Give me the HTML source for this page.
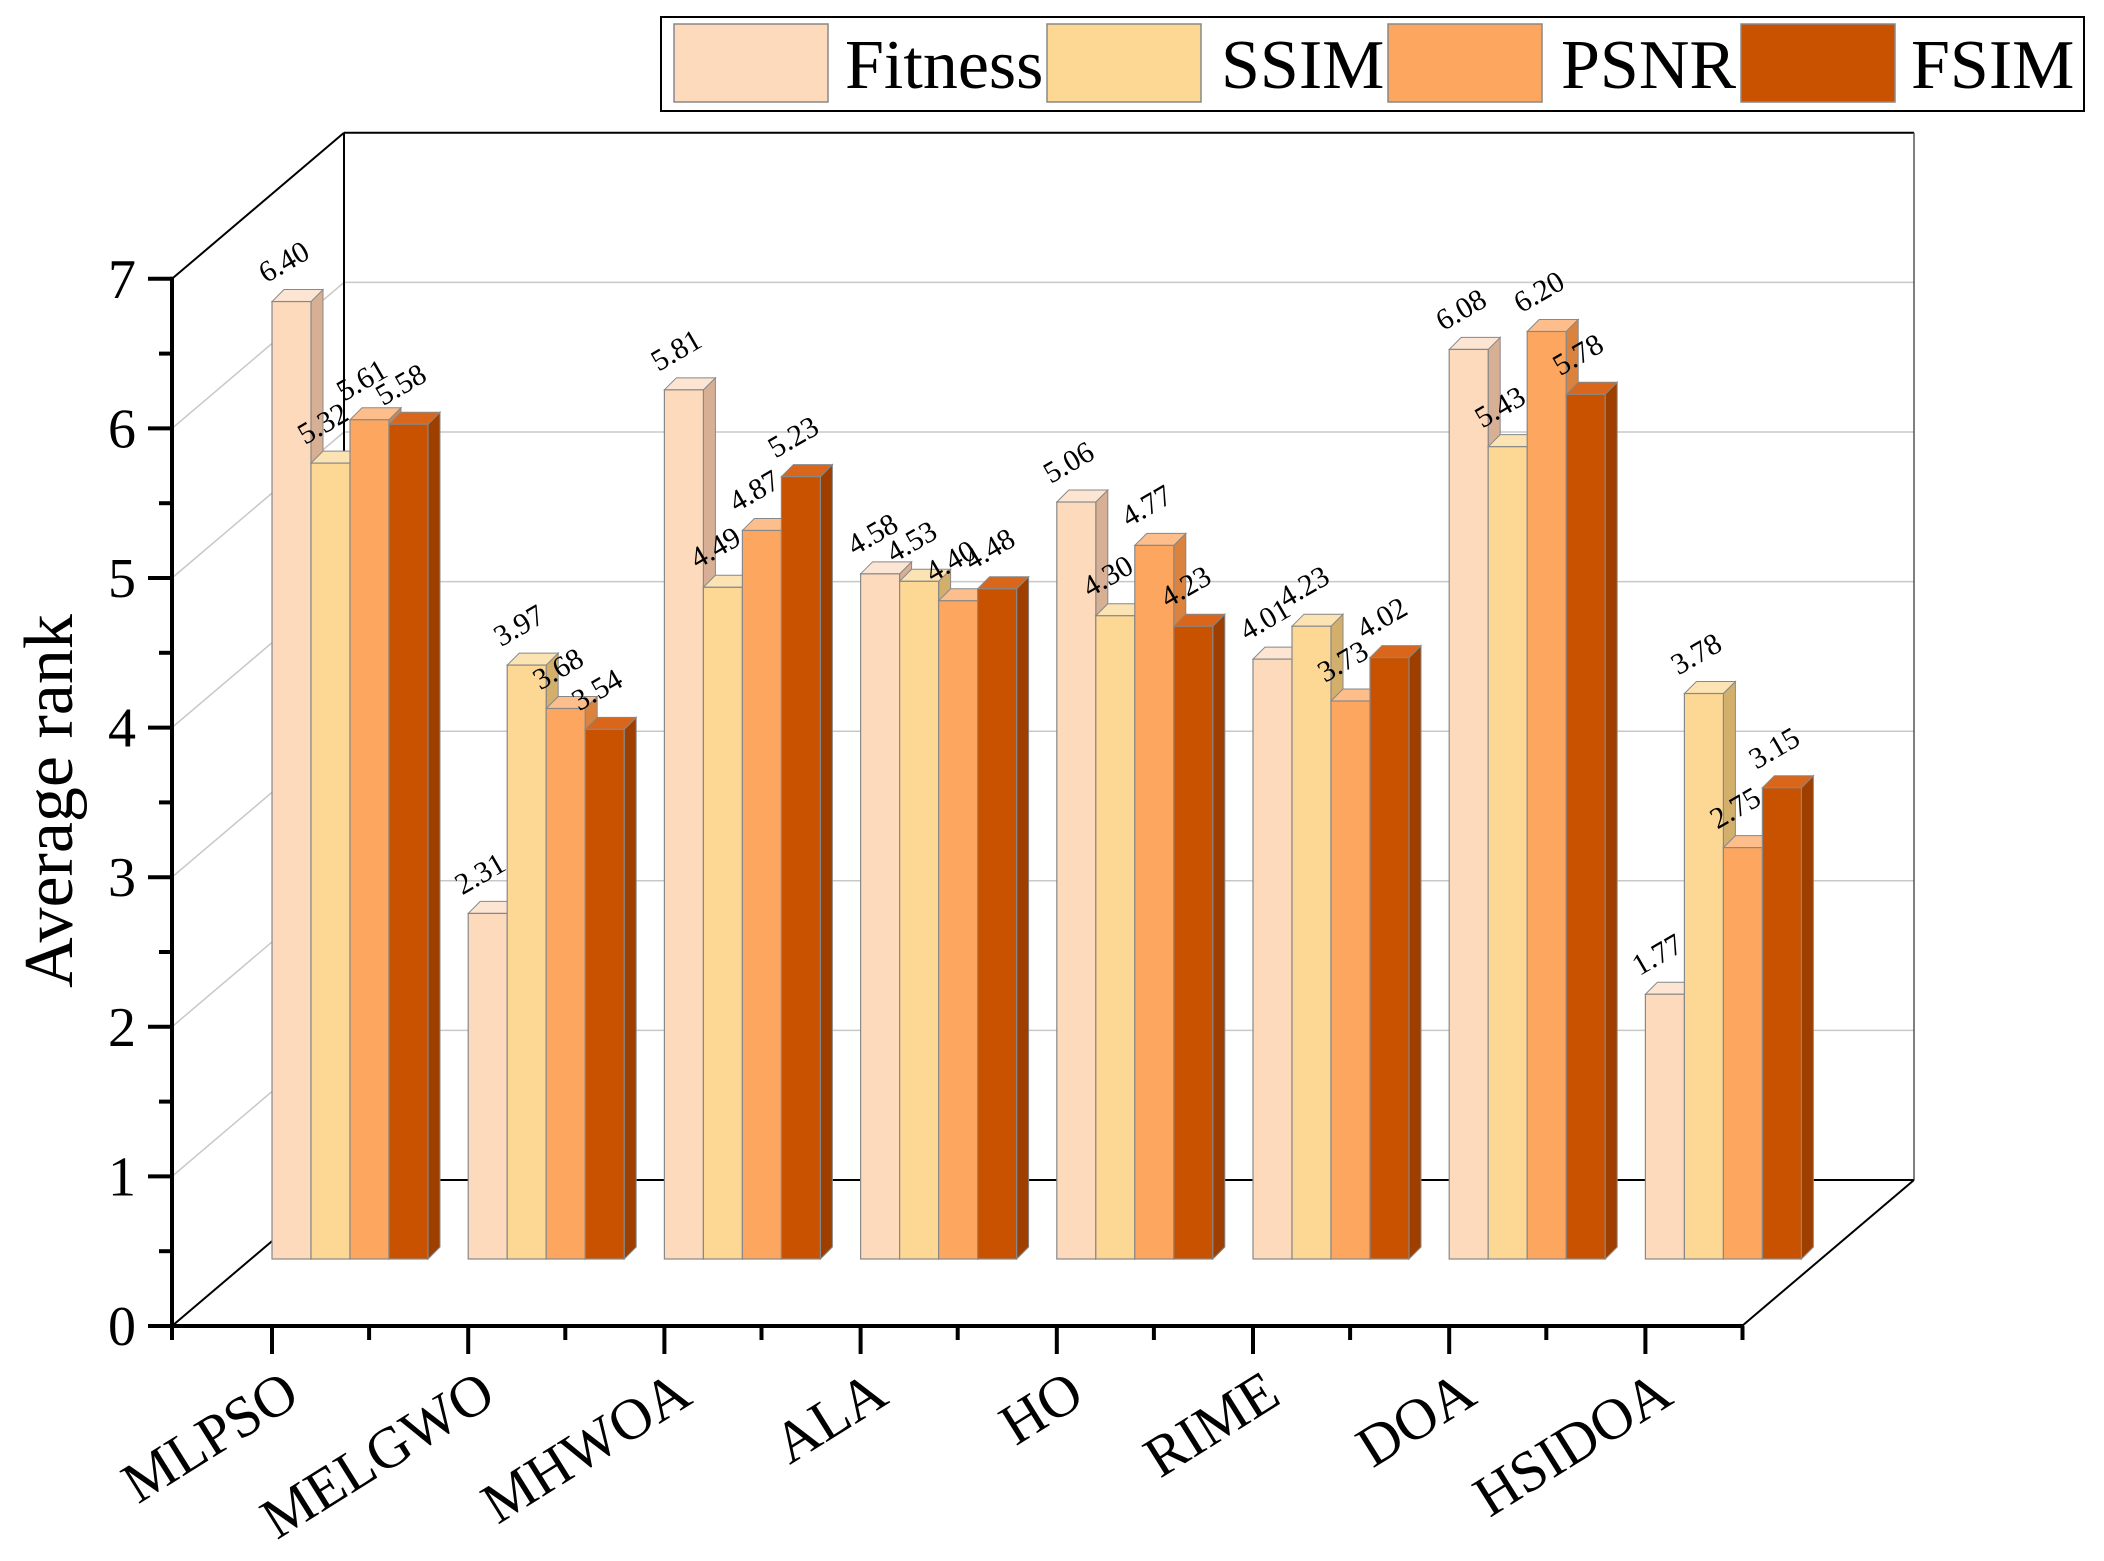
<!DOCTYPE html>
<html><head><meta charset="utf-8"><style>
html,body{margin:0;padding:0;background:#fff;}
svg{display:block;font-family:"Liberation Serif",serif;}
</style></head><body>
<svg id="chart" width="2104" height="1561" viewBox="0 0 2104 1561" xmlns="http://www.w3.org/2000/svg"></svg>
<script>
const categories = ["MLPSO","MELGWO","MHWOA","ALA","HO","RIME","DOA","HSIDOA"];
const seriesNames = ["Fitness","SSIM","PSNR","FSIM"];
const fitness = [6.40,2.31,5.81,4.58,5.06,4.01,6.08,1.77];
const ssim = [5.32,3.97,4.49,4.53,4.30,4.23,5.43,3.78];
const psnr = [5.61,3.68,4.87,4.40,4.77,3.73,6.20,2.75];
const fsim = [5.58,3.54,5.23,4.48,4.23,4.02,5.78,3.15];
const yTicks = [0,1,2,3,4,5,6,7];

const svg = document.getElementById('chart');
const NS = 'http://www.w3.org/2000/svg';
function mk(tag, attrs, parent){
  const e = document.createElementNS(NS, tag);
  for (const k in attrs) e.setAttribute(k, attrs[k]);
  (parent||svg).appendChild(e);
  return e;
}
const X0 = 172, Y0 = 1326, UNIT = 149.6, YMAX = 7;
const BDX = 172, BDY = -146;
const XEND = 1742;
const BAR_BASE = 1259, BAR_W = 39, GROUP0 = 272, GROUP_STEP = 196.2, DEP = 12;
function yFront(v){ return Y0 - v*UNIT; }
function yBack(v){ return Y0 + BDY - v*UNIT; }
function yBar(v){ return BAR_BASE - v*UNIT; }

const colors = ["#FEDABD","#FDD794","#FDA660","#C85200"];
const tops = ["#FCE5D2","#FBE3B4","#FDBE8C","#D9661A"];
const sides = ["#D6AF94","#D3AF6C","#D9833F","#9E3F00"];
const series = [fitness, ssim, psnr, fsim];

const grid = mk('g', {});


yTicks.forEach(v=>{
  if(v>0 && v<YMAX){
    mk('line',{x1:X0+BDX,y1:yBack(v),x2:XEND+BDX,y2:yBack(v),stroke:'#c8c8c8','stroke-width':1.5},grid);
    mk('line',{x1:X0,y1:yFront(v),x2:X0+BDX,y2:yBack(v),stroke:'#c8c8c8','stroke-width':1.5},grid);
  }
});
const frame = mk('g',{stroke:'#000','stroke-width':2,fill:'none'});


mk('line',{x1:X0,y1:yFront(YMAX),x2:X0+BDX,y2:yBack(YMAX)},frame);
mk('line',{x1:X0+BDX,y1:yBack(YMAX),x2:XEND+BDX,y2:yBack(YMAX)},frame);
mk('line',{x1:X0+BDX,y1:yBack(YMAX),x2:X0+BDX,y2:yBack(0)},frame);
mk('line',{x1:XEND+BDX,y1:yBack(YMAX),x2:XEND+BDX,y2:yBack(0),stroke:'#555','stroke-width':1.5},frame);
mk('line',{x1:X0+BDX,y1:yBack(0),x2:XEND+BDX,y2:yBack(0)},frame);
mk('line',{x1:X0,y1:yFront(0),x2:X0+BDX,y2:yBack(0)},frame);
mk('line',{x1:XEND,y1:yFront(0),x2:XEND+BDX,y2:yBack(0)},frame);

categories.forEach((c,i)=>{
  const g = mk('g',{});
  
  
  series.forEach((s,j)=>{
    const v = s[i];
    const x = GROUP0 + i*GROUP_STEP + j*BAR_W;
    const yt = yBar(v);
    const side = mk('polygon',{points:`${x+BAR_W},${yt} ${x+BAR_W+DEP},${yt-DEP} ${x+BAR_W+DEP},${BAR_BASE-DEP} ${x+BAR_W},${BAR_BASE}`,fill:sides[j],stroke:'#888','stroke-width':1},g);
    
    
    const top = mk('polygon',{points:`${x},${yt} ${x+DEP},${yt-DEP} ${x+BAR_W+DEP},${yt-DEP} ${x+BAR_W},${yt}`,fill:tops[j],stroke:'#888','stroke-width':1},g);
    
    
    const r = mk('rect',{x:x,y:yt,width:BAR_W,height:BAR_BASE-yt,fill:colors[j],stroke:'#888','stroke-width':1.2},g);
    
    
  });
  series.forEach((s,j)=>{
    const v = s[i];
    const x = GROUP0 + i*GROUP_STEP + j*BAR_W;
    const yt = yBar(v);
    const t = mk('text',{x:x-6,y:yt-18,'font-size':30,fill:'#000',transform:`rotate(-30 ${x-6} ${yt-18})`},g);
    t.textContent = v.toFixed(2);
    
    
  });
});

const ax = mk('g',{stroke:'#000','stroke-width':4,fill:'none'});


mk('line',{x1:X0,y1:yFront(YMAX)-2,x2:X0,y2:Y0+2},ax);
mk('line',{x1:X0-2,y1:Y0,x2:XEND+2,y2:Y0},ax);
yTicks.forEach(v=>{
  mk('line',{x1:X0-24,y1:yFront(v),x2:X0,y2:yFront(v)},ax);
  if(v<YMAX) mk('line',{x1:X0-13,y1:yFront(v+0.5),x2:X0,y2:yFront(v+0.5)},ax);
  const t = mk('text',{x:X0-36,y:yFront(v)+19,'font-size':56,'text-anchor':'end',fill:'#000',stroke:'none'});
  t.textContent = v;
  
  
});
mk('line',{x1:X0,y1:Y0,x2:X0,y2:Y0+14},ax);
categories.forEach((c,i)=>{
  const tx = GROUP0 + i*GROUP_STEP;
  mk('line',{x1:tx,y1:Y0,x2:tx,y2:Y0+28},ax);
  mk('line',{x1:tx+GROUP_STEP/2-1,y1:Y0,x2:tx+GROUP_STEP/2-1,y2:Y0+14},ax);
  const lx = tx+30, ly = 1402;
  const t = mk('text',{x:lx,y:ly,'font-size':58,'text-anchor':'end',fill:'#000',stroke:'none',transform:`rotate(-32 ${lx} ${ly})`});
  t.textContent = c;
  
  
});
const yt = mk('text',{x:72,y:801,'font-size':70,'text-anchor':'middle',fill:'#000',transform:'rotate(-90 72 801)'});
yt.textContent = 'Average rank';



const lg = mk('g',{});


mk('rect',{x:661,y:17,width:1423,height:94,fill:'#fff',stroke:'#000','stroke-width':2},lg);
const sw = [674,1047,1388,1741];
const tx = [845,1221,1561,1911];
seriesNames.forEach((n,j)=>{
  const e = mk('g',{},lg);
  
  
  mk('rect',{x:sw[j],y:24,width:154,height:78,fill:colors[j],stroke:'#888','stroke-width':1.5},e);
  const t = mk('text',{x:tx[j],y:88,'font-size':70,fill:'#000'},e);
  t.textContent = n;
});
</script>
</body></html>
